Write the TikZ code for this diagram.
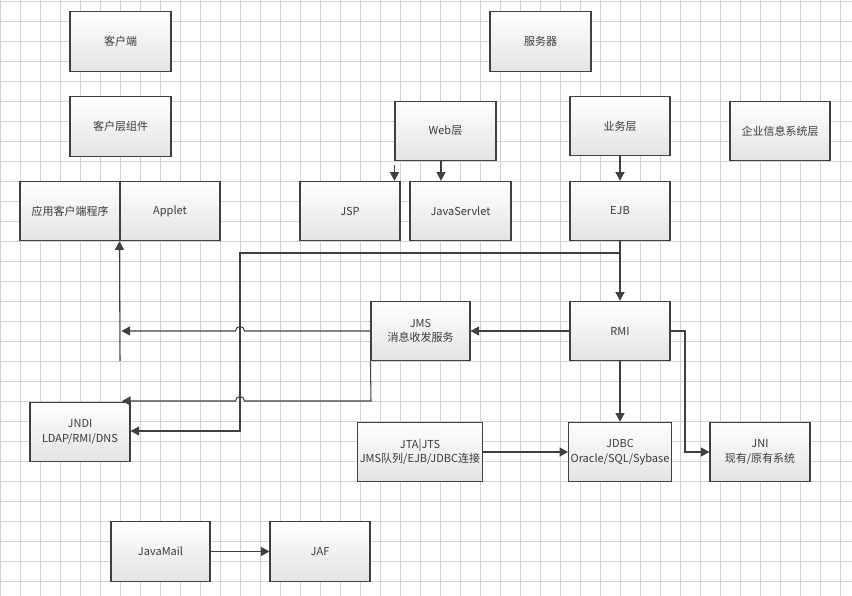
\documentclass[tikz,border=0pt]{standalone}
\usepackage{fontspec}
\setmainfont{Noto Sans CJK SC}
\usetikzlibrary{arrows.meta}
\definecolor{lc}{HTML}{404040}
\definecolor{txt}{HTML}{3A3A3A}
\definecolor{gridc}{HTML}{D2D2D2}
\tikzset{
  box/.style={draw=lc, line width=1.1pt, top color=white, bottom color=black!11,
    minimum width=100pt, minimum height=59.5pt, inner sep=2pt,
    font=\fontsize{11}{14.5}\selectfont, text=txt, align=center},
  conn/.style={draw=lc, line width=1.05pt},
  arr/.style={conn, -{Triangle[length=8.5pt,width=9pt]}},
  gridline/.style={draw=gridc, line width=0.9pt}
}
\begin{document}
\begin{tikzpicture}[x=1pt,y=-1pt]
\useasboundingbox (0,0) rectangle (852,596);
\fill[white] (0,0) rectangle (852,596);
\foreach \k in {0,...,42} \draw[gridline] (\k*20+0.5,0) -- (\k*20+0.5,596);
\foreach \k in {0,...,29} \draw[gridline] (0,\k*20+1.7) -- (852,\k*20+1.7);

\node[box, minimum width=101pt] (kehu) at (120.5,41.5) {客户端};
\node[box, minimum width=101pt] (kehuzu) at (120.5,126.5) {客户层组件};
\node[box] (yingyong) at (70,211) {应用客户端程序};
\node[box] (applet) at (170,211) {Applet};
\node[box, minimum width=101pt] (web) at (445.5,131) {Web层};
\node[box] (jsp) at (350,211) {JSP};
\node[box, minimum width=101pt] (servlet) at (460.5,211) {JavaServlet};
\node[box, minimum width=101pt] (fuwuqi) at (540.5,41.5) {服务器};
\node[box] (yewu) at (620,126) {业务层};
\node[box] (ejb) at (620,211) {EJB};
\node[box] (qiye) at (780,131) {企业信息系统层};
\node[box, minimum width=99pt] (jms) at (420.5,331) {JMS\\消息收发服务};
\node[box] (rmi) at (620,331) {RMI};
\node[box] (jndi) at (80,432) {JNDI\\LDAP/RMI/DNS};
\node[box, minimum width=122pt] (jta) at (420,452) {JTA|JTS\\JMS队列/EJB/JDBC连接};
\node[box] (jdbc) at (620,452) {JDBC\\Oracle/SQL/Sybase};
\node[box] (jni) at (760,452) {JNI\\现有/原有系统};
\node[box, minimum width=99pt] (javamail) at (160.5,551.5) {JavaMail};
\node[box] (jaf) at (320,551.5) {JAF};

\draw[arr] ([yshift=-4pt]web.south west) -- (web.south west |- jsp.north);
\draw[arr] ([xshift=-4.5pt]web.south) -- ([xshift=-4.5pt]web.south |- servlet.north);
\draw[arr] (yewu) -- (ejb);
\draw[arr] (ejb) -- (rmi);

\coordinate (b1) at (620,253);
\coordinate (b2) at (240,253);
\coordinate (b3) at (240,431);
\draw[arr] (b1) -- (b2) -- (b3) -- (b3 -| jndi.east);

\draw[arr] (rmi) -- (jms);
\draw[arr] (jms.west) -- (244.5,331) arc[start angle=0,end angle=-180,radius=4.5] -- (121.5,331);

\coordinate (av) at (120,361);
\draw[arr] (av) -- (applet.south west);

\coordinate (j1) at (371,401);
\draw[arr] (jms.south west) -- (j1) -- (244.5,401) arc[start angle=0,end angle=-180,radius=4.5] -- (122,401);

\coordinate (r1) at (685,331);
\coordinate (r2) at (685,452);
\draw[arr] (rmi.east) -- (r1) -- (r2) -- (jni.west);
\draw[arr] (rmi) -- (jdbc);
\draw[arr] (jta) -- (jdbc);
\draw[arr] (javamail) -- (jaf);
\end{tikzpicture}
\end{document}
